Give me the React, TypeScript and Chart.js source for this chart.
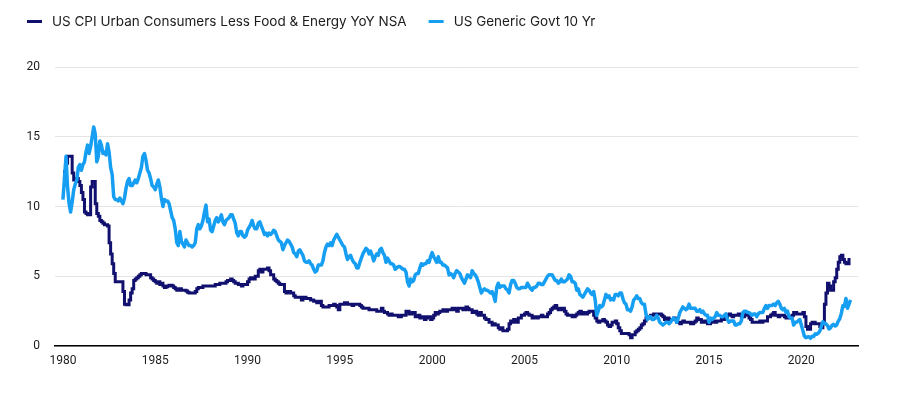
import React, { useEffect, useRef } from 'react';
import { Chart, registerables } from 'chart.js';

Chart.register(...registerables);

// Monthly series, first value = Jan 1980
const START_YEAR = 1980;

// US CPI Urban Consumers Less Food & Energy YoY NSA (monthly, Jan 1980 - Aug 2022)
const coreCpiYoY: number[] = [
  12.0, 12.5, 13.1, 13.6, 13.6, 13.6, 12.4, 11.9, 12.0, 12.0, 11.8, 11.5,
  11.0, 10.5, 9.6, 9.5, 9.4, 9.4, 11.4, 11.8, 11.8, 10.2, 9.5, 9.3,
  9.0, 8.9, 8.8, 8.7, 8.7, 8.6, 7.4, 6.6, 5.9, 5.2, 4.6, 4.6,
  4.6, 4.6, 4.6, 3.9, 3.0, 2.95, 2.95, 3.3, 3.8, 4.1, 4.7, 4.8,
  4.9, 5.0, 5.1, 5.2, 5.2, 5.2, 5.1, 5.1, 5.1, 4.9, 4.8, 4.7,
  4.6, 4.5, 4.6, 4.4, 4.5, 4.3, 4.2, 4.25, 4.3, 4.35, 4.35, 4.3,
  4.2, 4.1, 4.0, 4.0, 4.1, 4.0, 4.0, 4.0, 3.95, 3.85, 3.8, 3.8,
  3.8, 3.8, 3.9, 4.1, 4.2, 4.2, 4.2, 4.3, 4.3, 4.3, 4.3, 4.3,
  4.3, 4.3, 4.3, 4.4, 4.4, 4.4, 4.5, 4.5, 4.5, 4.5, 4.6, 4.7,
  4.7, 4.8, 4.7, 4.6, 4.5, 4.5, 4.4, 4.4, 4.3, 4.4, 4.4, 4.4,
  4.6, 4.8, 4.9, 4.8, 4.8, 5.0, 5.0, 5.4, 5.5, 5.3, 5.5, 5.5,
  5.5, 5.6, 5.4, 5.1, 5.1, 4.8, 4.7, 4.6, 4.5, 4.4, 4.4, 4.4,
  3.9, 3.8, 3.9, 3.9, 3.8, 3.8, 3.6, 3.5, 3.5, 3.5, 3.5, 3.3,
  3.5, 3.5, 3.4, 3.4, 3.4, 3.3, 3.3, 3.2, 3.2, 3.1, 3.1, 3.2,
  2.9, 2.8, 2.8, 2.8, 2.8, 2.9, 2.9, 2.9, 3.0, 2.9, 2.8, 2.6,
  3.0, 3.0, 3.0, 3.1, 3.1, 3.0, 3.0, 3.0, 2.9, 3.0, 3.0, 3.0,
  3.0, 2.9, 2.8, 2.7, 2.7, 2.7, 2.7, 2.6, 2.6, 2.6, 2.6, 2.6,
  2.5, 2.5, 2.5, 2.7, 2.5, 2.4, 2.4, 2.3, 2.2, 2.3, 2.2, 2.2,
  2.2, 2.2, 2.1, 2.1, 2.2, 2.2, 2.2, 2.5, 2.5, 2.3, 2.3, 2.4,
  2.4, 2.1, 2.1, 2.2, 2.0, 2.1, 2.1, 1.9, 2.0, 2.1, 2.1, 1.9,
  2.0, 2.2, 2.4, 2.3, 2.4, 2.5, 2.5, 2.6, 2.6, 2.5, 2.6, 2.6,
  2.6, 2.7, 2.7, 2.6, 2.5, 2.7, 2.7, 2.7, 2.6, 2.6, 2.8, 2.7,
  2.6, 2.6, 2.4, 2.5, 2.5, 2.3, 2.2, 2.4, 2.2, 2.2, 2.0, 1.9,
  1.9, 1.7, 1.7, 1.5, 1.6, 1.5, 1.5, 1.3, 1.2, 1.3, 1.1, 1.1,
  1.1, 1.2, 1.6, 1.8, 1.7, 1.9, 1.8, 1.7, 2.0, 2.0, 2.2, 2.2,
  2.3, 2.4, 2.3, 2.2, 2.2, 2.0, 2.1, 2.1, 2.0, 2.1, 2.1, 2.2,
  2.1, 2.1, 2.1, 2.3, 2.4, 2.6, 2.7, 2.8, 2.9, 2.7, 2.6, 2.6,
  2.7, 2.7, 2.5, 2.3, 2.2, 2.2, 2.2, 2.1, 2.1, 2.2, 2.3, 2.4,
  2.5, 2.3, 2.4, 2.3, 2.3, 2.4, 2.5, 2.5, 2.5, 2.2, 2.0, 1.8,
  1.7, 1.8, 1.8, 1.9, 1.8, 1.7, 1.5, 1.4, 1.5, 1.7, 1.7, 1.8,
  1.6, 1.3, 1.1, 0.9, 0.9, 0.9, 0.9, 0.9, 0.8, 0.6, 0.8, 0.8,
  1.0, 1.1, 1.2, 1.3, 1.5, 1.6, 1.8, 2.0, 2.0, 2.1, 2.2, 2.2,
  2.3, 2.2, 2.3, 2.3, 2.3, 2.2, 2.1, 1.9, 2.0, 2.0, 1.9, 1.9,
  1.9, 2.0, 1.9, 1.7, 1.7, 1.6, 1.7, 1.8, 1.7, 1.7, 1.7, 1.7,
  1.6, 1.6, 1.7, 1.8, 2.0, 1.9, 1.9, 1.7, 1.7, 1.8, 1.7, 1.6,
  1.6, 1.7, 1.8, 1.8, 1.7, 1.8, 1.8, 1.8, 1.9, 1.9, 2.0, 2.1,
  2.2, 2.3, 2.2, 2.1, 2.2, 2.2, 2.2, 2.3, 2.2, 2.1, 2.1, 2.2,
  2.3, 2.2, 2.0, 1.9, 1.7, 1.7, 1.7, 1.7, 1.7, 1.8, 1.7, 1.8,
  1.8, 1.8, 2.1, 2.1, 2.2, 2.3, 2.4, 2.2, 2.2, 2.1, 2.2, 2.2,
  2.2, 2.1, 2.0, 2.1, 2.0, 2.1, 2.2, 2.4, 2.4, 2.3, 2.3, 2.3,
  2.3, 2.4, 2.1, 1.4, 1.2, 1.2, 1.6, 1.7, 1.7, 1.6, 1.6, 1.6,
  1.4, 1.3, 1.6, 3.0, 3.8, 4.5, 4.3, 4.0, 4.0, 4.6, 4.9, 5.5,
  6.0, 6.4, 6.5, 6.2, 6.0, 5.9, 5.9, 6.3,
];

// US Generic Govt 10 Yr (monthly, Jan 1980 - Sep 2022)
const govt10y: number[] = [
  10.5, 12.0, 13.6, 11.4, 10.2, 9.6, 10.3, 11.2, 11.6, 11.9, 12.8, 13.0,
  12.6, 13.0, 13.2, 13.9, 14.4, 13.8, 14.3, 15.0, 15.7, 15.2, 13.2, 13.6,
  14.7, 14.4, 13.8, 13.9, 13.7, 14.5, 13.9, 12.8, 12.3, 10.7, 10.5, 10.5,
  10.4, 10.6, 10.4, 10.2, 10.6, 11.3, 11.8, 12.0, 11.5, 11.5, 11.7, 11.9,
  11.7, 12.0, 12.4, 12.8, 13.6, 13.8, 13.3, 12.6, 12.4, 12.0, 11.5, 11.4,
  11.2, 11.6, 11.9, 11.4, 10.6, 10.0, 10.5, 10.4, 10.4, 10.2, 9.7, 9.2,
  9.0, 8.4, 7.4, 7.2, 8.2, 7.5, 7.3, 7.1, 7.6, 7.4, 7.2, 7.2,
  7.1, 7.2, 7.4, 8.4, 8.7, 8.4, 8.6, 9.0, 9.6, 10.1, 8.9, 9.1,
  8.3, 8.2, 8.6, 9.0, 9.2, 8.9, 9.1, 9.4, 8.9, 8.7, 9.0, 9.1,
  9.2, 9.4, 9.4, 9.1, 8.8, 8.1, 7.9, 8.2, 8.2, 7.9, 7.8, 7.9,
  8.3, 8.5, 8.7, 9.0, 8.6, 8.4, 8.4, 8.8, 8.9, 8.6, 8.3, 8.0,
  8.1, 7.9, 8.1, 8.0, 8.1, 8.3, 8.2, 7.9, 7.6, 7.5, 7.4, 6.9,
  7.2, 7.4, 7.6, 7.5, 7.3, 7.1, 6.7, 6.6, 6.4, 6.8, 6.9, 6.7,
  6.5, 6.1, 6.0, 6.0, 6.1, 5.9, 5.8, 5.5, 5.3, 5.4, 5.8, 5.8,
  5.8, 6.1, 6.7, 7.1, 7.3, 7.2, 7.4, 7.2, 7.6, 7.8, 8.0, 7.8,
  7.6, 7.4, 7.2, 7.1, 6.6, 6.2, 6.4, 6.5, 6.2, 6.0, 5.9, 5.6,
  5.6, 6.0, 6.3, 6.6, 6.8, 7.0, 6.9, 6.6, 6.8, 6.5, 6.1, 6.4,
  6.6, 6.5, 6.9, 7.0, 6.7, 6.5, 6.0, 6.3, 6.1, 5.9, 5.9, 5.8,
  5.5, 5.6, 5.7, 5.7, 5.6, 5.5, 5.5, 5.3, 4.6, 4.3, 4.8, 4.6,
  4.7, 5.1, 5.2, 5.2, 5.6, 5.9, 5.8, 5.9, 5.9, 6.1, 6.0, 6.4,
  6.7, 6.4, 6.2, 6.0, 6.4, 6.0, 6.0, 5.8, 5.8, 5.7, 5.6, 5.1,
  5.2, 5.1, 4.9, 5.2, 5.4, 5.3, 5.2, 4.9, 4.7, 4.5, 4.8, 5.1,
  5.0, 4.9, 5.4, 5.2, 5.1, 4.9, 4.6, 4.2, 3.8, 4.0, 4.1, 4.0,
  4.0, 3.9, 3.8, 3.9, 3.6, 3.2, 4.2, 4.5, 4.2, 4.3, 4.3, 4.3,
  4.1, 4.0, 3.8, 4.4, 4.7, 4.7, 4.5, 4.2, 4.1, 4.1, 4.2, 4.2,
  4.2, 4.2, 4.5, 4.3, 4.1, 4.0, 4.2, 4.2, 4.3, 4.5, 4.5, 4.4,
  4.4, 4.6, 4.8, 5.0, 5.1, 5.1, 5.1, 4.9, 4.7, 4.7, 4.5, 4.6,
  4.8, 4.6, 4.6, 4.7, 4.8, 5.1, 5.0, 4.6, 4.6, 4.5, 4.0, 4.1,
  3.7, 3.6, 3.5, 3.7, 3.9, 4.1, 4.0, 3.8, 3.7, 3.9, 3.3, 2.2,
  2.5, 2.9, 2.8, 2.9, 3.3, 3.7, 3.5, 3.6, 3.3, 3.4, 3.3, 3.7,
  3.7, 3.6, 3.8, 3.8, 3.4, 3.1, 3.0, 2.6, 2.6, 2.5, 2.8, 3.3,
  3.4, 3.6, 3.4, 3.4, 3.1, 3.0, 3.0, 2.3, 1.9, 2.1, 2.1, 1.9,
  1.9, 2.0, 2.2, 2.0, 1.7, 1.6, 1.5, 1.6, 1.7, 1.7, 1.6, 1.7,
  1.9, 2.0, 1.9, 1.7, 2.0, 2.4, 2.6, 2.8, 2.7, 2.6, 2.7, 3.0,
  2.7, 2.7, 2.7, 2.7, 2.5, 2.5, 2.6, 2.4, 2.5, 2.3, 2.2, 2.2,
  1.7, 2.0, 1.9, 2.0, 2.1, 2.4, 2.2, 2.2, 2.1, 2.1, 2.2, 2.3,
  1.9, 1.7, 1.8, 1.8, 1.8, 1.5, 1.5, 1.6, 1.6, 1.8, 2.4, 2.5,
  2.5, 2.4, 2.4, 2.3, 2.2, 2.3, 2.3, 2.1, 2.3, 2.4, 2.4, 2.4,
  2.7, 2.9, 2.7, 2.9, 2.9, 2.9, 3.0, 2.9, 3.1, 3.2, 3.0, 2.7,
  2.6, 2.7, 2.4, 2.5, 2.1, 2.0, 2.0, 1.5, 1.7, 1.7, 1.8, 1.9,
  1.5, 1.1, 0.7, 0.6, 0.65, 0.66, 0.55, 0.7, 0.68, 0.87, 0.84, 0.92,
  1.07, 1.4, 1.74, 1.63, 1.58, 1.47, 1.22, 1.3, 1.49, 1.55, 1.44, 1.51,
  1.78, 1.95, 2.34, 2.89, 2.84, 3.4, 2.7, 3.0, 3.3,
];

const xTickYears = [1980, 1985, 1990, 1995, 2000, 2005, 2010, 2015, 2020];
const yTickValues = [0, 5, 10, 15, 20];
const seriesNames = ['US CPI Urban Consumers Less Food & Energy YoY NSA', 'US Generic Govt 10 Yr'];
const seriesColors = ['#11106e', '#169ff2'];

const TICK_FONT = 'Roboto, "Liberation Sans", Arial, sans-serif';
const LEGEND_FONT = 'Inter, Roboto, "Liberation Sans", Arial, sans-serif';

const toPoints = (arr: number[]) => arr.map((v, i) => ({ x: START_YEAR + i / 12, y: v }));

const legendPlugin = {
  id: 'topLegend',
  afterDraw(chart: any) {
    const ctx = chart.ctx as CanvasRenderingContext2D;
    ctx.save();
    ctx.font = `13.5px ${LEGEND_FONT}`;
    ctx.textBaseline = 'middle';
    ctx.textAlign = 'left';
    let x = 19;
    const y = 13.5;
    seriesNames.forEach((name, i) => {
      ctx.fillStyle = seriesColors[i];
      ctx.fillRect(x, y - 1.5, 15, 3);
      const tx = x + 25;
      ctx.fillStyle = '#1c1c1c';
      ctx.fillText(name, tx, y);
      x = tx + ctx.measureText(name).width + 22;
    });
    ctx.restore();
  },
};

export default function App() {
  const canvasRef = useRef<HTMLCanvasElement | null>(null);

  useEffect(() => {
    if (!canvasRef.current) return;
    const chart = new Chart(canvasRef.current, {
      type: 'line',
      data: {
        datasets: [
          {
            label: seriesNames[1],
            data: toPoints(govt10y),
            borderColor: seriesColors[1],
            backgroundColor: seriesColors[1],
            borderWidth: 3.5,
            pointRadius: 0,
            tension: 0,
            borderJoinStyle: 'round',
            order: 0,
          },
          {
            label: seriesNames[0],
            data: toPoints(coreCpiYoY),
            borderColor: seriesColors[0],
            backgroundColor: seriesColors[0],
            borderWidth: 3,
            pointRadius: 0,
            stepped: 'before',
            order: 1,
          },
        ],
      },
      options: {
        animation: false,
        responsive: false,
        layout: { padding: { top: 59, right: 32, left: 0, bottom: 0 } },
        plugins: {
          legend: { display: false },
          tooltip: { enabled: false },
        },
        scales: {
          x: {
            type: 'linear',
            min: 1979.57,
            max: 2023.07,
            afterBuildTicks: (s: any) => {
              s.ticks = xTickYears.map((v) => ({ value: v }));
            },
            afterFit: (s: any) => {
              s.height = 40;
            },
            ticks: {
              callback: (v: any) => String(v),
              font: { family: TICK_FONT, size: 12 },
              color: '#1c1c1c',
              padding: 8,
              maxRotation: 0,
              autoSkip: false,
            },
            grid: { color: 'rgba(0,0,0,0)', drawTicks: false },
            border: { display: true, color: '#000000', width: 1.5 },
          },
          y: {
            min: 0,
            max: 20,
            afterBuildTicks: (s: any) => {
              s.ticks = yTickValues.map((v) => ({ value: v }));
            },
            afterFit: (s: any) => {
              s.width = 47;
            },
            ticks: {
              font: { family: TICK_FONT, size: 12 },
              color: '#1c1c1c',
              padding: 15,
            },
            grid: { color: '#e4e4e4', lineWidth: 1, drawTicks: false },
            border: { display: false },
          },
        },
      },
      plugins: [legendPlugin],
    });
    return () => chart.destroy();
  }, []);

  return (
    <div style={{ width: 882, height: 378 }}>
      <canvas ref={canvasRef} width={882} height={378} style={{ display: 'block' }} />
    </div>
  );
}
